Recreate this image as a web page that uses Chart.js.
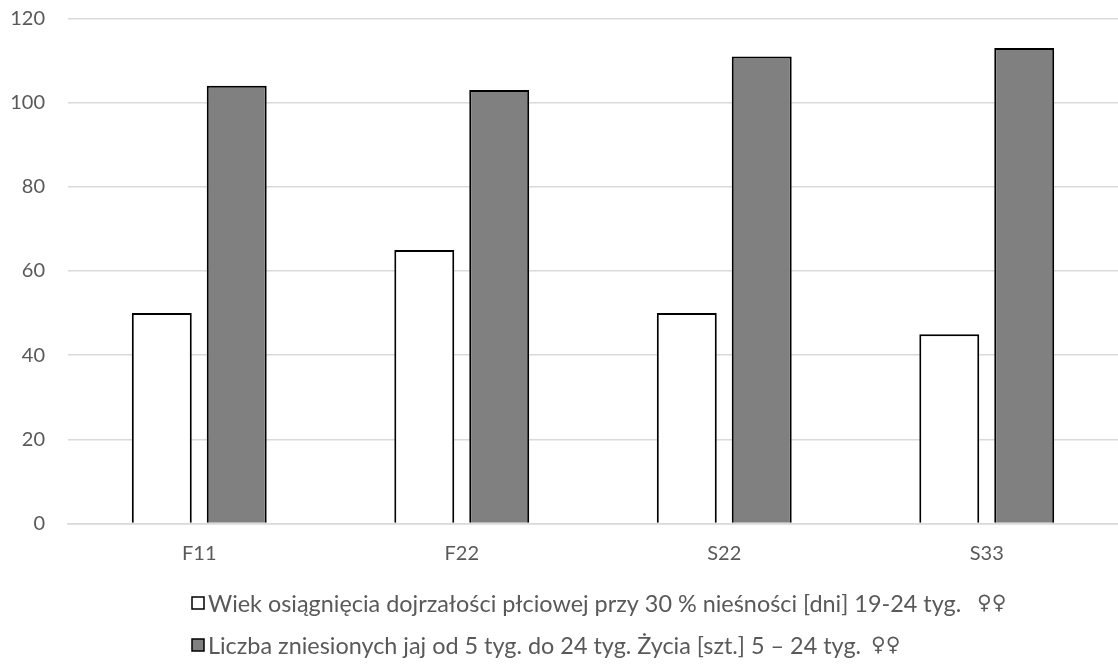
<!DOCTYPE html>
<html>
<head>
<meta charset="utf-8">
<style>
  html, body { margin: 0; padding: 0; background: #ffffff; }
  #wrap { width: 1118px; height: 670px; position: relative; }
</style>
<script src="https://cdn.jsdelivr.net/npm/chart.js@4.4.1/dist/chart.umd.min.js"></script>
</head>
<body>
<div id="wrap"><canvas id="chart"></canvas></div>
<script>
// Lines (categories) on the x axis
const categories = ['F11', 'F22', 'S22', 'S33'];

// Series values
const ageAtMaturity = [50, 65, 50, 45];   // days, 30 % laying rate
const eggsLaid = [104, 103, 111, 113];    // eggs, weeks 5–24

// Series labels
const seriesLabels = [
  'Wiek osiągnięcia dojrzałości płciowej przy 30 % nieśności [dni] 19-24 tyg.  ♀♀',
  'Liczba zniesionych jaj od 5 tyg. do 24 tyg. Życia [szt.] 5 – 24 tyg. ♀♀'
];

// Value axis
const yMin = 0;
const yMax = 120;
const yStep = 20;

const FONT = 'Lato, "Open Sans", "Noto Sans", sans-serif';
const SYMBOL_FONT = '"DejaVu Sans", sans-serif';
const TEXT = '#595959';

// Legend drawn as two left-aligned rows under the axis
const rowLegend = {
  id: 'rowLegend',
  afterDraw(chart) {
    const ctx = chart.ctx;
    const x0 = 192;
    const rows = [603, 645];
    ctx.save();
    ctx.textBaseline = 'middle';
    ctx.textAlign = 'left';
    chart.data.datasets.forEach((ds, i) => {
      const yc = rows[i];
      ctx.fillStyle = ds.backgroundColor;
      ctx.fillRect(x0, yc - 6, 12, 12);
      ctx.strokeStyle = '#000000';
      ctx.lineWidth = 1.5;
      ctx.strokeRect(x0, yc - 6, 12, 12);

      // words in the text face, the ♀ signs in a face that carries them
      const cut = ds.label.indexOf('♀');
      const words = cut >= 0 ? ds.label.slice(0, cut) : ds.label;
      const signs = cut >= 0 ? ds.label.slice(cut) : '';
      ctx.fillStyle = TEXT;
      ctx.font = '23.4px ' + FONT;
      ctx.fillText(words, x0 + 16, yc + 1);
      const w = ctx.measureText(words).width;
      ctx.font = '20px ' + SYMBOL_FONT;
      ctx.fillText(signs, x0 + 16 + w + 4, yc + 1);
    });
    ctx.restore();
  }
};

new Chart(document.getElementById('chart'), {
  type: 'bar',
  data: {
    labels: categories,
    datasets: [
      {
        label: seriesLabels[0],
        data: ageAtMaturity,
        backgroundColor: '#ffffff',
        borderColor: '#000000',
        borderWidth: 2
      },
      {
        label: seriesLabels[1],
        data: eggsLaid,
        backgroundColor: '#808080',
        borderColor: '#000000',
        borderWidth: 2
      }
    ]
  },
  options: {
    responsive: true,
    maintainAspectRatio: false,
    animation: false,
    layout: { padding: { top: 18.5, bottom: 96.5, left: 0, right: 0 } },
    datasets: {
      bar: { categoryPercentage: 0.571, barPercentage: 0.8 }
    },
    plugins: {
      legend: { display: false },
      tooltip: { enabled: false }
    },
    scales: {
      x: {
        grid: { display: false, drawTicks: false },
        border: { display: true, color: '#d9d9d9', width: 1.5 },
        ticks: { color: TEXT, font: { family: FONT, size: 20 }, padding: 18 },
        afterFit(scale) { scale.height = 50; }
      },
      y: {
        min: yMin,
        max: yMax,
        grid: { color: '#d9d9d9', lineWidth: 1.5, drawTicks: false },
        border: { display: false },
        ticks: {
          stepSize: yStep,
          color: TEXT,
          font: { family: FONT, size: 20 },
          padding: 23
        },
        afterFit(scale) {
          scale.width = 68;
          scale.paddingTop = 0;
          scale.paddingBottom = 0;
        }
      }
    }
  },
  plugins: [rowLegend]
});
</script>
</body>
</html>
